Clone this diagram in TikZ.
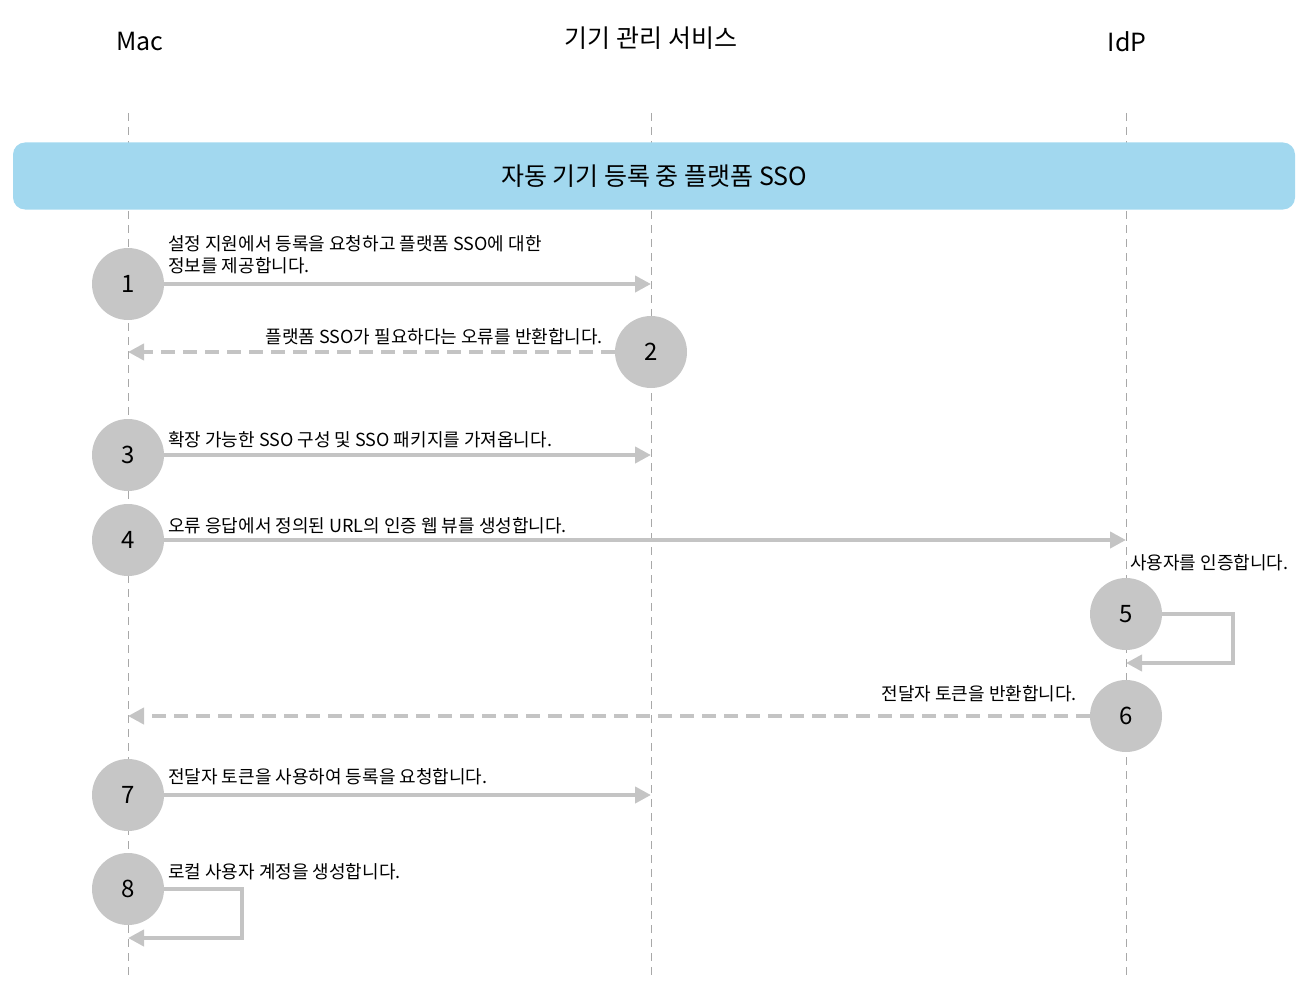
\documentclass[tikz,border=0pt]{standalone}
\usepackage{fontspec}
\setmainfont{Noto Sans CJK KR}
\usetikzlibrary{arrows.meta}
\definecolor{ag}{HTML}{C4C4C4}
\definecolor{cg}{HTML}{C6C6C6}
\definecolor{bl}{HTML}{A2D8EF}
\definecolor{ll}{HTML}{A8A8A8}
\begin{document}
\begin{tikzpicture}[x=1pt,y=-1pt,
 life/.style={ll,line width=1pt,dash pattern=on 8pt off 6pt},
 num/.style={circle,fill=cg,minimum size=72pt,inner sep=0pt,font=\fontsize{24}{24}\selectfont},
 msg/.style={ag,line width=4pt,-{Triangle[length=16pt,width=16pt]}},
 dmsg/.style={msg,dash pattern=on 14pt off 8pt},
 lab/.style={font=\fontsize{18}{22}\selectfont,inner sep=0pt,align=left},
 head/.style={font=\fontsize{25}{25}\selectfont}]
\useasboundingbox (0,0) rectangle (1303,987);
\node[head] (hm) at (140,42) {Mac};
\node[head] (hs) at (651,38) {기기 관리 서비스};
\node[head] (hi) at (1127,42) {IdP};
\coordinate (m0) at (128,113); \coordinate (m1) at (128,975);
\coordinate (s0) at (651,113); \coordinate (s1) at (651,975);
\coordinate (i0) at (1126,113); \coordinate (i1) at (1126,975);
\draw[life] (m0)--(m1); \draw[life] (s0)--(s1); \draw[life] (i0)--(i1);
\node[fill=bl,rounded corners=12pt,minimum width=1282pt,minimum height=67pt,font=\fontsize{25}{25}\selectfont] (ban) at (654,176) {자동 기기 등록 중 플랫폼 SSO};
% 1
\node[num] (n1) at (128,284) {1};
\coordinate (e1) at (651,284);
\draw[msg] (n1.east)--(e1);
\node[lab,anchor=west] (l1) at (168,255) {설정 지원에서 등록을 요청하고 플랫폼 SSO에 대한\\정보를 제공합니다.};
% 2
\node[num] (n2) at (651,352) {2};
\coordinate (e2) at (128,352);
\draw[dmsg] (n2.west)--(e2);
\node[lab,anchor=east] (l2) at (603,337) {플랫폼 SSO가 필요하다는 오류를 반환합니다.};
% 3
\node[num] (n3) at (128,455) {3};
\coordinate (e3) at (651,455);
\draw[msg] (n3.east)--(e3);
\node[lab,anchor=west] (l3) at (168,440) {확장 가능한 SSO 구성 및 SSO 패키지를 가져옵니다.};
% 4
\node[num] (n4) at (128,540) {4};
\coordinate (e4) at (1126,540);
\draw[msg] (n4.east)--(e4);
\node[lab,anchor=west] (l4) at (168,526) {오류 응답에서 정의된 URL의 인증 웹 뷰를 생성합니다.};
% 5
\node[num] (n5) at (1126,614) {5};
\coordinate (e5) at (1126,663);
\draw[msg] (n5.east)--(1233,614)--(1233,663)--(e5);
\node[lab,anchor=west] (l5) at (1130,563) {사용자를 인증합니다.};
% 6
\node[num] (n6) at (1126,716) {6};
\coordinate (e6) at (128,716);
\draw[dmsg] (n6.west)--(e6);
\node[lab,anchor=east] (l6) at (1077,694) {전달자 토큰을 반환합니다.};
% 7
\node[num] (n7) at (128,795) {7};
\coordinate (e7) at (651,795);
\draw[msg] (n7.east)--(e7);
\node[lab,anchor=west] (l7) at (168,777) {전달자 토큰을 사용하여 등록을 요청합니다.};
% 8
\node[num] (n8) at (128,889) {8};
\coordinate (e8) at (128,938);
\draw[msg] (n8.east)--(242,889)--(242,938)--(e8);
\node[lab,anchor=west] (l8) at (168,872) {로컬 사용자 계정을 생성합니다.};
\end{tikzpicture}
\end{document}
